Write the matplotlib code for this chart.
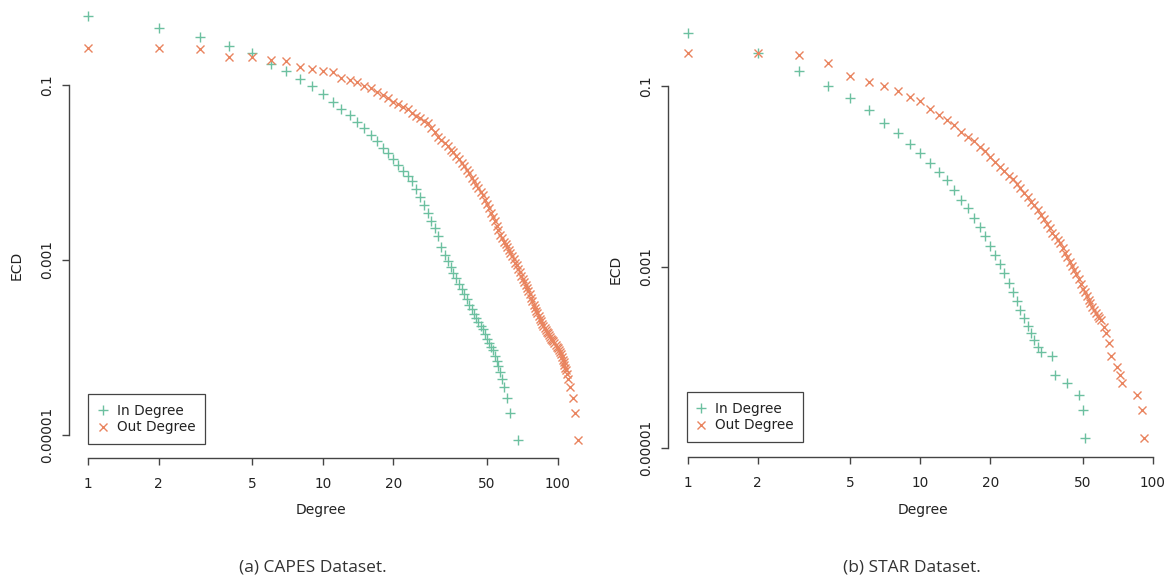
import numpy as np
import matplotlib.pyplot as plt
from matplotlib.ticker import NullLocator

# valores (log10 del ECD) para cada grado
capes_in_deg = list(range(1, 57)) + [57, 58, 59, 61, 63, 68]
capes_in_log = [-0.211, -0.352, -0.455, -0.551, -0.638, -0.763, -0.837, -0.93, -1.015, -1.10,
                -1.19, -1.275, -1.34, -1.42, -1.49, -1.57, -1.64, -1.72, -1.78, -1.85,
                -1.92, -1.98, -2.04, -2.10, -2.19, -2.28, -2.37, -2.46, -2.55, -2.63,
                -2.73, -2.85, -2.94, -3.01, -3.08, -3.15, -3.21, -3.27, -3.33, -3.39,
                -3.45, -3.51, -3.56, -3.62, -3.66, -3.71, -3.75, -3.79, -3.85, -3.90,
                -3.95, -3.99, -4.03, -4.10, -4.15, -4.21,
                -4.28, -4.36, -4.45, -4.58, -4.75, -5.056]

capes_out_deg = list(range(1, 112)) + [113, 116, 119, 122]
capes_out_log = [-0.574, -0.574, -0.592, -0.676, -0.683, -0.714, -0.726, -0.79, -0.82, -0.837,
                 -0.848, -0.923, -0.943, -0.962, -1.01, -1.04, -1.08, -1.12, -1.15, -1.19,
                 -1.22, -1.25, -1.28, -1.32, -1.35, -1.38, -1.41, -1.44, -1.49, -1.54,
                 -1.59, -1.63, -1.66, -1.70, -1.74, -1.77, -1.81, -1.85, -1.89, -1.93,
                 -1.97, -2.01, -2.06, -2.10, -2.14, -2.18, -2.22, -2.26, -2.31, -2.36,
                 -2.41, -2.46, -2.51, -2.56, -2.61, -2.66, -2.71, -2.75, -2.79, -2.82,
                 -2.85, -2.89, -2.92, -2.96, -2.99, -3.03, -3.06, -3.10, -3.14, -3.18,
                 -3.22, -3.25, -3.29, -3.32, -3.35, -3.39, -3.43, -3.47, -3.51, -3.55,
                 -3.58, -3.61, -3.64, -3.67, -3.70, -3.73, -3.76, -3.78, -3.80, -3.82,
                 -3.84, -3.86, -3.88, -3.90, -3.92, -3.93, -3.95, -3.97, -3.99, -4.01,
                 -4.03, -4.05, -4.08, -4.11, -4.14, -4.17, -4.20, -4.23, -4.26, -4.30, -4.36,
                 -4.45, -4.58, -4.75, -5.056]

star_in_deg = list(range(1, 34)) + [37, 38, 43, 48, 50, 51]
star_in_log = [-0.411, -0.632, -0.831, -1.0, -1.136, -1.265, -1.41, -1.523, -1.637, -1.744,
               -1.854, -1.947, -2.039, -2.149, -2.26, -2.35, -2.46, -2.56, -2.66, -2.77,
               -2.87, -2.97, -3.07, -3.18, -3.28, -3.38, -3.47, -3.56, -3.65, -3.73,
               -3.81, -3.88, -3.94,
               -3.983, -4.19, -4.285, -4.41, -4.585, -4.886]

star_out_deg = list(range(1, 61)) + [62, 63, 65, 66, 70, 72, 74, 86, 90, 92]
star_out_log = [-0.632, -0.632, -0.657, -0.749, -0.89, -0.952, -1.0, -1.052, -1.118, -1.17,
                -1.258, -1.32, -1.376, -1.431, -1.51, -1.56, -1.61, -1.67, -1.72, -1.78,
                -1.84, -1.89, -1.94, -1.99, -2.03, -2.08, -2.13, -2.18, -2.23, -2.28,
                -2.32, -2.37, -2.42, -2.47, -2.52, -2.57, -2.62, -2.66, -2.70, -2.74,
                -2.79, -2.84, -2.89, -2.94, -2.99, -3.03, -3.08, -3.13, -3.19, -3.24,
                -3.28, -3.32, -3.36, -3.40, -3.44, -3.48, -3.51, -3.54, -3.56, -3.58,
                -3.66, -3.73, -3.84, -3.98, -4.10, -4.19, -4.285, -4.41, -4.585, -4.886]

xticks = [1, 2, 5, 10, 20, 50, 100]
yticks = [0.1, 0.001, 0.00001]
yticklabels = ['0.1', '0.001', '0.00001']
labels = ['In Degree', 'Out Degree']
captions = ['(a) CAPES Dataset.', '(b) STAR Dataset.']

verde = '#6cc0a0'
naranja = '#e9845f'
gris = '#444444'

W, H = 1172.0, 579.0
fig = plt.figure(figsize=(11.72, 5.79), dpi=100)

# cajas de los ejes en pixeles: (x0, y_arriba, x1, y_abajo) y limites en log10
paneles = [
    dict(box=(68.9, 5, 590, 458), xl=(-0.0813, 2.138), yl=(-5.263, -0.0857),
         ind=capes_in_deg, inl=capes_in_log, outd=capes_out_deg, outl=capes_out_log,
         leg=(88, 444), xlab=(321, 510), ylab=(17, 265), cap=(313, 567)),
    dict(box=(667.5, 5, 1165, 457), xl=(-0.0865, 2.053), yl=(-5.099, -0.105),
         ind=star_in_deg, inl=star_in_log, outd=star_out_deg, outl=star_out_log,
         leg=(686.5, 442), xlab=(923, 510), ylab=(616, 269), cap=(912, 567)),
]

for i, p in enumerate(paneles):
    x0, y0, x1, y1 = p['box']
    ax = fig.add_axes([x0/W, 1 - y1/H, (x1 - x0)/W, (y1 - y0)/H])
    ax.patch.set_alpha(0)

    ax.plot(p['ind'], 10**np.array(p['inl']), ls='none', marker='+', ms=7, mew=1.0,
            color=verde, label=labels[0])
    ax.plot(p['outd'], 10**np.array(p['outl']), ls='none', marker='x', ms=5.5, mew=1.0,
            color=naranja, label=labels[1])

    ax.set_xscale('log'); ax.set_yscale('log')
    ax.set_xlim(10**p['xl'][0], 10**p['xl'][1])
    ax.set_ylim(10**p['yl'][0], 10**p['yl'][1])

    ax.set_xticks(xticks)
    ax.set_xticklabels([str(t) for t in xticks])
    ax.set_yticks(yticks)
    ax.set_yticklabels(yticklabels, rotation=90, va='center')
    ax.xaxis.set_minor_locator(NullLocator())
    ax.yaxis.set_minor_locator(NullLocator())

    for s in ['top', 'right']:
        ax.spines[s].set_visible(False)
    ax.spines['left'].set_bounds(1e-5, 0.1)
    ax.spines['bottom'].set_bounds(1, 100)
    for s in ['left', 'bottom']:
        ax.spines[s].set_color(gris)
        ax.spines[s].set_linewidth(1.0)

    ax.tick_params(direction='out', length=5, width=1, color=gris,
                   labelsize=9.8, labelcolor='#222222')
    ax.tick_params(axis='x', pad=9)
    ax.tick_params(axis='y', pad=5.5)

    lx, ly = p['leg']
    leg = ax.legend(loc='lower left', bbox_to_anchor=(lx/W, 1 - ly/H),
                    bbox_transform=fig.transFigure, borderaxespad=0,
                    fancybox=False, edgecolor=gris, framealpha=1,
                    borderpad=0.7, handlelength=0.75, handletextpad=0.66,
                    labelspacing=0.2, fontsize=9.8)
    leg.get_frame().set_linewidth(0.9)
    for t in leg.get_texts():
        t.set_color('#222222')

    fig.text(p['xlab'][0]/W, 1 - p['xlab'][1]/H, 'Degree', ha='center', va='center',
             fontsize=10, color='#222222')
    fig.text(p['ylab'][0]/W, 1 - p['ylab'][1]/H, 'ECD', ha='center', va='center',
             rotation=90, fontsize=10, color='#222222')
    fig.text(p['cap'][0]/W, 1 - p['cap'][1]/H, captions[i], ha='center', va='center',
             family='Open Sans', fontsize=12.5, color='#333333')

plt.savefig('out.png', dpi=100)
